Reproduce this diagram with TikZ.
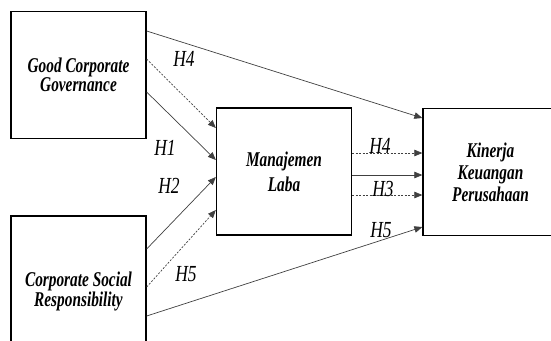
\documentclass[tikz,border=0pt]{standalone}
\usepackage{fontspec}
\newfontfamily\boxfont[FakeStretch=0.73]{Liberation Serif}
\newfontfamily\hypfont[FakeStretch=0.76]{Liberation Serif}
\usetikzlibrary{arrows.meta}
\tikzset{
    varbox/.style = {rectangle, draw=black, line width=1.3bp, minimum width=135bp, minimum height=127bp, align=center, inner sep=0pt, font=\boxfont\bfseries\itshape\fontsize{21bp}{#1}\selectfont},
    varbox/.default = 20bp,
    edgen/.style = {-{Triangle[length=8bp,width=6.5bp]}, line width=0.7bp, draw=black!75},
    edged/.style = {edgen, dash pattern=on 2bp off 1.5bp}, % mediating
    hlabel/.style = {inner sep=0pt, font=\hypfont\itshape\fontsize{23bp}{23bp}\selectfont}
}
\begin{document}
\begin{tikzpicture}[x=1bp,y=-1bp]
\clip (0,0) rectangle (551,340);
%
\node[varbox=15bp] at (78.5, 75) (gcg) {Good Corporate\\Governance};
\node[varbox=17bp, minimum height=150bp] at (78.5, 291) (csr) {Corporate Social\\Responsibility};
\node[varbox=25bp] at (284, 171.5) (ml) {Manajemen\\Laba};
\node[varbox=22bp] at (490.5, 172) (kkp) {Kinerja\\Keuangan\\Perusahaan};
%
\draw[edgen] (gcg.east |- 0,31) -- (kkp.west |- 0,118);
\draw[edged] (gcg.east |- 0,59) -- (ml.west |- 0,128);
\draw[edgen] (gcg.east |- 0,92) -- (ml.west |- 0,160);
\draw[edgen] (csr.east |- 0,249) -- (ml.west |- 0,177);
\draw[edged] (csr.east |- 0,287) -- (ml.west |- 0,210);
\draw[edgen] (csr.east |- 0,316) -- (kkp.west |- 0,227);
\draw[edged] (ml.east |- 0,153) -- (kkp.west |- 0,153);
\draw[edgen] (ml.east |- 0,175) -- (kkp.west |- 0,175);
\draw[edged] (ml.east |- 0,195) -- (kkp.west |- 0,195);
%
\node[hlabel] at (184, 59) (h4a) {H4};
\node[hlabel] at (165, 148) (h1) {H1};
\node[hlabel] at (169, 186) (h2) {H2};
\node[hlabel] at (186, 274) (h5a) {H5};
\node[hlabel, anchor=base] at (380, 153) (h4b) {H4};
\node[hlabel] at (383, 189) (h3) {H3};
\node[hlabel] at (381, 230) (h5b) {H5};

\end{tikzpicture}
\end{document}
